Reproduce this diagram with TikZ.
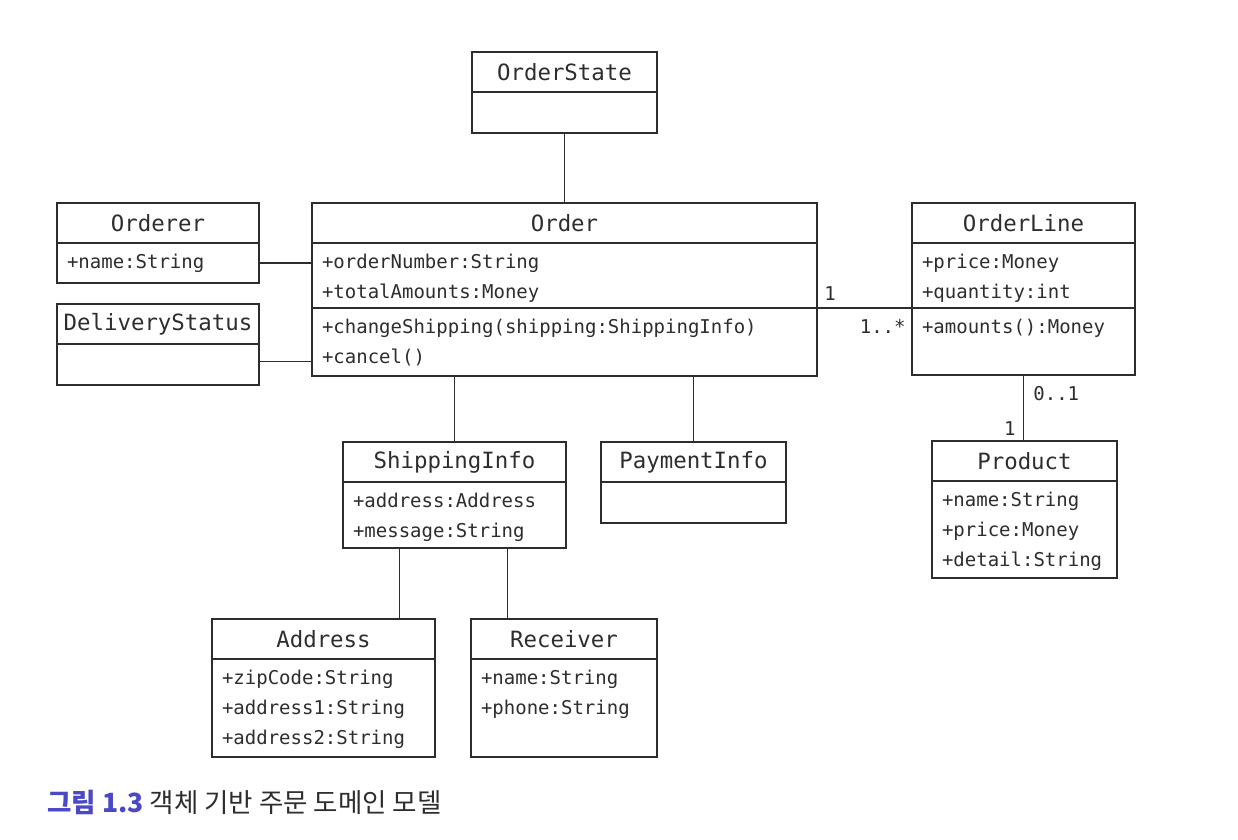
\documentclass[tikz,border=0pt]{standalone}
\usepackage{fontspec}
\usepackage{tikz}
\usetikzlibrary{shapes,arrows,calc,positioning}
\newfontfamily\umlfont{DejaVu Sans Mono}
\newfontfamily\cjk{Noto Sans CJK KR}
\definecolor{ink}{RGB}{45,45,45}
\definecolor{capblue}{RGB}{74,72,196}
\newcommand{\headfont}{\umlfont\fontsize{11.2pt}{13pt}\selectfont}
\newcommand{\attrfont}{\umlfont\fontsize{9.5pt}{15pt}\selectfont}
\tikzstyle{head} = [rectangle, draw=ink, line width=0.7pt, outer sep=0pt, text=ink, inner sep=0pt, minimum height=20pt, anchor=north west, font=\headfont]
\tikzstyle{body} = [rectangle, draw=ink, line width=0.7pt, outer sep=0pt, text=ink, inner xsep=5pt, inner ysep=4.5pt, text height=8pt, align=left, font=\attrfont]
\tikzstyle{nobody} = [rectangle, draw=ink, line width=0.7pt, outer sep=0pt, minimum height=20.5pt]
\tikzstyle{link} = [draw=ink, line width=0.7pt]
\tikzstyle{mult} = [text=ink, inner sep=0pt, font=\attrfont]

\begin{document}
\begin{tikzpicture}[x=0.5pt, y=-0.5pt]
      \useasboundingbox (0,0) rectangle (1238,840);
      \node [head, minimum width=92.5pt] at (472, 52) (ostate) {OrderState};
      \node [nobody, minimum width=92.5pt, below=0pt of ostate] (ostateb) {};
      \node [head, minimum width=252.5pt] at (312, 203) (order) {Order};
      \node [body, text width=242.5pt, text depth=15.5pt, below=0pt of order] (orderattr) {+orderNumber:String\\+totalAmounts:Money};
      \node [body, text width=242.5pt, text depth=17pt, below=0pt of orderattr] (ordermeth) {+changeShipping(shipping:ShippingInfo)\\+cancel()};
      \node [head, minimum width=101pt] at (57, 203) (orderer) {Orderer};
      \node [body, text width=91pt, text depth=3pt, below=0pt of orderer] (ordererb) {+name:String};
      \node [head, minimum width=101pt] at (57, 304) (dstatus) {DeliveryStatus};
      \node [nobody, minimum width=101pt, below=0pt of dstatus] (dstatusb) {};
      \node [head, minimum width=111.5pt] at (912, 203) (oline) {OrderLine};
      \node [body, text width=101.5pt, text depth=15.5pt, below=0pt of oline] (olineattr) {+price:Money\\+quantity:int};
      \node [body, text width=101.5pt, text depth=16.5pt, below=0pt of olineattr] (olinemeth) {+amounts():Money};
      \node [head, minimum width=92.5pt] at (932, 441) (product) {Product};
      \node [body, text width=82.5pt, text depth=31.5pt, below=0pt of product] (productb) {+name:String\\+price:Money\\+detail:String};
      \node [head, minimum width=111.5pt] at (343, 442) (shipinfo) {ShippingInfo};
      \node [body, text width=101.5pt, text depth=16pt, below=0pt of shipinfo] (shipinfob) {+address:Address\\+message:String};
      \node [head, minimum width=92.5pt] at (601, 442) (payinfo) {PaymentInfo};
      \node [nobody, minimum width=92.5pt, below=0pt of payinfo] (payinfob) {};
      \node [head, minimum width=111.5pt] at (212, 619) (address) {Address};
      \node [body, text width=101.5pt, text depth=32pt, below=0pt of address] (addressb) {+zipCode:String\\+address1:String\\+address2:String};
      \node [head, minimum width=93pt] at (471, 619) (receiver) {Receiver};
      \node [body, text width=83pt, text depth=32pt, below=0pt of receiver] (receiverb) {+name:String\\+phone:String};
      \coordinate (shipl) at ($(shipinfob.south) + (-55, 0)$);
      \coordinate (shipr) at ($(shipinfob.south) + (53, 0)$);
      \coordinate (dstatusr) at ($(dstatusb.east) + (0, -3)$);
      \path [link] (ostateb) -- (order);
      \path [link] (ordererb.east) -- (ordererb.east -| orderattr.west);
      \path [link] (dstatusr) -- (dstatusr -| ordermeth.west);
      \path [link] (orderattr.south east) -- (olineattr.south west);
      \path [link] (shipinfo.north |- ordermeth.south) -- (shipinfo.north);
      \path [link] (payinfo.north |- ordermeth.south) -- (payinfo.north);
      \path [link] (olinemeth.south) -- (olinemeth.south |- product.north);
      \path [link] (shipl) -- (shipl |- address.north);
      \path [link] (shipr) -- (shipr |- receiver.north);
      \node [mult, anchor=base west] at (824, 300) (m1) {1};
      \node [mult, anchor=base east] at (906, 333) (m2) {1..*};
      \node [mult, anchor=base west] at (1033, 400) (m3) {0..1};
      \node [mult, anchor=base east] at (1016, 435) (m4) {1};
      \node [anchor=base west, inner sep=0pt, text=ink, font=\cjk\fontsize{13.25pt}{15pt}\selectfont] at (47, 812) (caption) {\textcolor{capblue}{\bfseries 그림 1.3} 객체 기반 주문 도메인 모델};
    \end{tikzpicture}
\end{document}
